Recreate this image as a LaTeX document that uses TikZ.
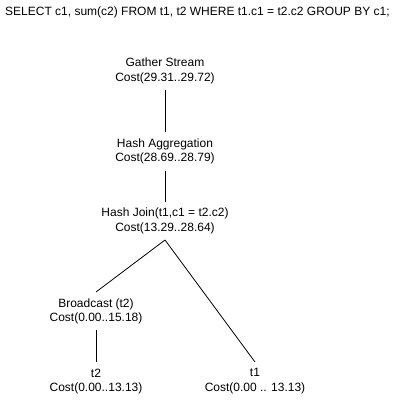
\documentclass[tikz,border=0pt]{standalone}
\usepackage{fontspec}
\setmainfont{Liberation Sans}
\usetikzlibrary{positioning}

\begin{document}
\begin{tikzpicture}[
			x=1pt, y=-1pt,
			plannode/.style = {
				align=center,
				font=\fontsize{12}{14.5}\selectfont,
				minimum height=38pt,
				inner sep=6pt
			},
			enlace/.style = {draw=black, line width=0.8pt}
			]
			\useasboundingbox (0,0) rectangle (418,417);
			
			\node[anchor=west, inner sep=0pt, font=\fontsize{12}{14.5}\selectfont] (consulta) at (5,12)
			{SELECT c1, sum(c2) FROM t1, t2 WHERE t1.c1 = t2.c2 GROUP BY c1;};
			
			\node[plannode] (gather) at (165,71) {Gather Stream\\Cost(29.31..29.72)};
			\node[plannode, below=42pt of gather] (agg) {Hash Aggregation\\Cost(28.69..28.79)};
			\node[plannode, below=31pt of agg] (join) {Hash Join(t1,c1 = t2.c2)\\Cost(13.29..28.64)};
			\node[plannode, below=52pt of join, xshift=-69pt] (bcast) {Broadcast (t2)\\Cost(0.00..15.18)};
			\node[plannode, below=32pt of bcast] (t2) {t2\\Cost(0.00..13.13)};
			\node[plannode, below=122pt of join, xshift=90pt] (t1) {t1\\Cost(0.00 .. 13.13)};
			
			\draw[enlace] (gather.south) -- (agg.north);
			\draw[enlace] (agg.south) -- (join.north);
			\draw[enlace] (join.south) -- (bcast.north);
			\draw[enlace] (join.south) -- (t1.north);
			\draw[enlace] (bcast.south) -- (t2.north);
			
		\end{tikzpicture}
\end{document}
